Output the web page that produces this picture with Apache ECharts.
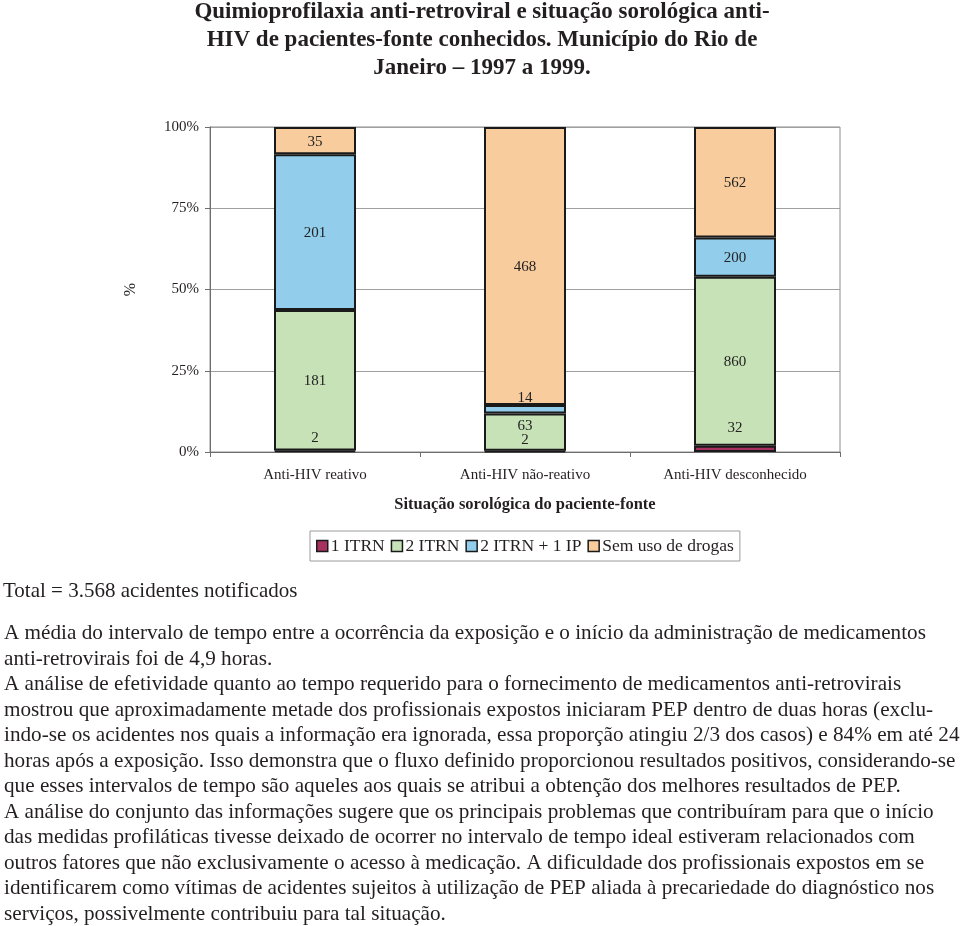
<!DOCTYPE html>
<html>
<head>
<meta charset="utf-8">
<script src="https://cdn.jsdelivr.net/npm/echarts@6/dist/echarts.min.js"></script>
<style>
html,body{margin:0;padding:0;background:#fff;}
#chart{width:960px;height:926px;}
</style>
</head>
<body>
<div id="chart"></div>
<script>
// ---- data ----
const categories = ['Anti-HIV reativo', 'Anti-HIV não-reativo', 'Anti-HIV desconhecido'];
const seriesNames = ['1 ITRN', '2 ITRN', '2 ITRN + 1 IP', 'Sem uso de drogas'];
const itrn1 = [2, 2, 32];
const itrn2 = [181, 63, 860];
const itrn2ip = [201, 14, 200];
const semUso = [35, 468, 562];
const yTickValues = [0, 25, 50, 75, 100];

const titleLines = [
  'Quimioprofilaxia anti-retroviral e situação sorológica anti-',
  'HIV de pacientes-fonte conhecidos. Município do Rio de',
  'Janeiro – 1997 a 1999.'
];
const totalNote = 'Total = 3.568 acidentes notificados';
const paragraphLines = [
  'A média do intervalo de tempo entre a ocorrência da exposição e o início da administração de medicamentos',
  'anti-retrovirais foi de 4,9 horas.',
  'A análise de efetividade quanto ao tempo requerido para o fornecimento de medicamentos anti-retrovirais',
  'mostrou que aproximadamente metade dos profissionais expostos iniciaram PEP dentro de duas horas (exclu-',
  'indo-se os acidentes nos quais a informação era ignorada, essa proporção atingiu 2/3 dos casos) e 84% em até 24',
  'horas após a exposição. Isso demonstra que o fluxo definido proporcionou resultados positivos, considerando-se',
  'que esses intervalos de tempo são aqueles aos quais se atribui a obtenção dos melhores resultados de PEP.',
  'A análise do conjunto das informações sugere que os principais problemas que contribuíram para que o início',
  'das medidas profiláticas tivesse deixado de ocorrer no intervalo de tempo ideal estiveram relacionados com',
  'outros fatores que não exclusivamente o acesso à medicação. A dificuldade dos profissionais expostos em se',
  'identificarem como vítimas de acidentes sujeitos à utilização de PEP aliada à precariedade do diagnóstico nos',
  'serviços, possivelmente contribuiu para tal situação.'
];

// ---- styling ----
const FONT = "'Liberation Serif', 'Times New Roman', serif";
const TXT = '#231f20';
const colors = ['#a8325f', '#c8e2b8', '#92cdec', '#f9cc9e'];
// vertical label nudges (px) for the very thin segments, as in the original
const labelShift = [
  [-13, -11, -21],
  [1, -6, 1],
  [1, -11, 1],
  [1, 1, 1]
];

const seriesValues = [itrn1, itrn2, itrn2ip, semUso];
const totals = categories.map((_, i) => seriesValues.reduce((s, arr) => s + arr[i], 0));

const series = seriesNames.map((name, si) => ({
  name: name,
  type: 'bar',
  stack: 'total',
  barWidth: 82,
  itemStyle: { color: colors[si], borderColor: '#1a1a1a', borderWidth: 2 },
  label: {
    show: true,
    position: 'inside',
    color: '#222',
    fontFamily: FONT,
    fontSize: 15,
    formatter: p => String(p.data.raw)
  },
  data: seriesValues[si].map((v, ci) => ({
    value: v / totals[ci] * 100,
    raw: v,
    label: { offset: [0, labelShift[si][ci]] }
  }))
}));

const chart = echarts.init(document.getElementById('chart'), null, { renderer: 'canvas' });
chart.setOption({
  animation: false,
  color: colors,
  grid: {
    left: 210, right: 120, top: 127, bottom: 474,
    show: true, borderColor: '#8c8c8c', borderWidth: 1
  },
  xAxis: {
    type: 'category',
    data: categories,
    name: 'Situação sorológica do paciente-fonte',
    nameLocation: 'middle',
    nameGap: 44,
    nameTextStyle: { fontFamily: FONT, fontSize: 16.5, fontWeight: 'bold', color: TXT },
    axisLine: { lineStyle: { color: '#6e6e6e', width: 1 } },
    axisTick: { show: true, length: 5, lineStyle: { color: '#6e6e6e' } },
    axisLabel: { fontFamily: FONT, fontSize: 15, color: TXT, margin: 16 }
  },
  yAxis: {
    type: 'value',
    min: yTickValues[0],
    max: yTickValues[yTickValues.length - 1],
    interval: yTickValues[1] - yTickValues[0],
    name: '%',
    nameLocation: 'middle',
    nameGap: 71,
    nameRotate: 90,
    nameTextStyle: { fontFamily: FONT, fontSize: 16, color: TXT },
    axisLine: { show: true, lineStyle: { color: '#6e6e6e' } },
    axisTick: { show: true, length: 5, lineStyle: { color: '#6e6e6e' } },
    axisLabel: { fontFamily: FONT, fontSize: 15, color: TXT, margin: 11, formatter: '{value}%' },
    splitLine: { show: true, lineStyle: { color: '#a0a0a0', width: 1 } }
  },
  legend: {
    data: seriesNames,
    left: 310,
    top: 531,
    orient: 'horizontal',
    icon: 'rect',
    itemWidth: 11,
    itemHeight: 11,
    itemGap: 6,
    padding: [6, 6, 6, 6],
    borderColor: '#9a9a9a',
    borderWidth: 1,
    itemStyle: { borderColor: '#1a1a1a', borderWidth: 1.5 },
    textStyle: { fontFamily: FONT, fontSize: 17.5, color: TXT, padding: [0, 0, 0, -2] }
  },
  series: series,
  graphic: [
    {
      type: 'text',
      style: {
        text: titleLines.join('\n'),
        x: 482, y: -2,
        align: 'center',
        verticalAlign: 'top',
        font: 'bold 23px ' + FONT,
        lineHeight: 28,
        fill: TXT
      }
    },
    {
      type: 'text',
      style: {
        text: totalNote,
        x: 3, y: 591,
        align: 'left',
        verticalAlign: 'middle',
        font: '21px ' + FONT,
        fill: TXT
      }
    },
    {
      type: 'text',
      style: {
        text: paragraphLines.join('\n'),
        x: 4, y: 621,
        align: 'left',
        verticalAlign: 'top',
        font: '21.2px ' + FONT,
        lineHeight: 25.5,
        fill: TXT
      }
    }
  ]
});
</script>
</body>
</html>
